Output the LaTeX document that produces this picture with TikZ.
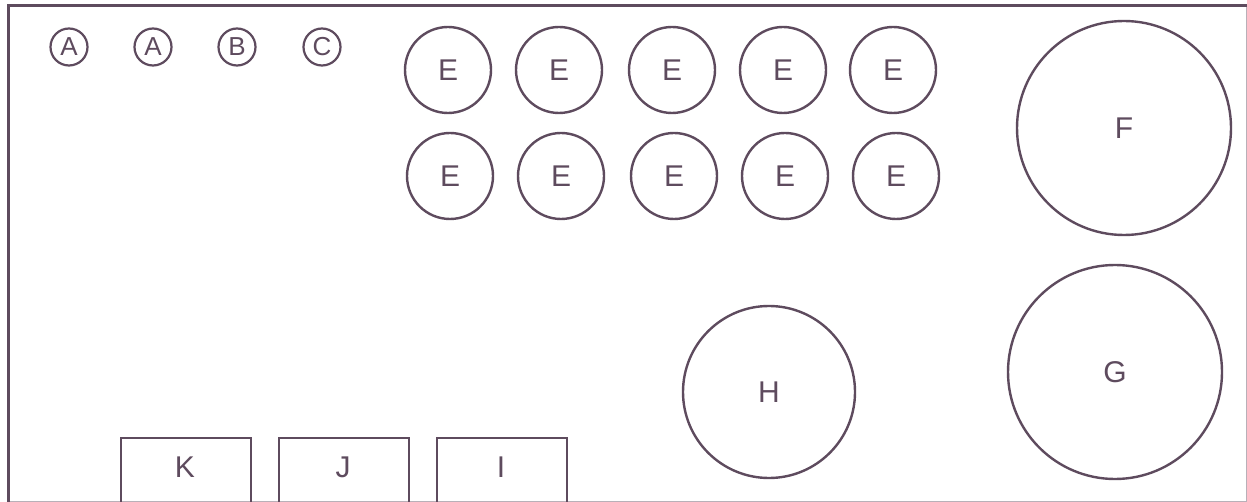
\documentclass[tikz,border=0pt]{standalone}
\usepackage{fontspec}
\setmainfont{Liberation Sans}
\definecolor{ink}{HTML}{5E4B5E}
\definecolor{faint}{HTML}{B8B0B8}
\begin{document}
\begin{tikzpicture}[x=1pt,y=-1pt,
  every node/.style={text=ink},
  smallc/.style={circle,draw=ink,line width=2.2pt,minimum size=37pt,inner sep=0pt,font=\fontsize{26}{26}\selectfont},
  ec/.style={circle,draw=ink,line width=2.4pt,minimum size=86pt,inner sep=0pt,font=\fontsize{30}{30}\selectfont},
  bigc/.style={circle,draw=ink,line width=2.4pt,inner sep=0pt,font=\fontsize{30}{30}\selectfont},
  boxk/.style={draw=ink,line width=2.4pt,minimum width=130pt,minimum height=70pt,inner sep=0pt,anchor=north west},
  lbl/.style={font=\fontsize{30}{30}\selectfont}]
\useasboundingbox (0,0) rectangle (1247,502);
\fill[white] (0,0) rectangle (1247,502);
\draw[faint,line width=1pt] (1246,6) -- (1246,501) -- (8,501);
% small circles
\node[smallc] (a1) at (69,47) {A};
\node[smallc] (a2) at (153,47) {A};
\node[smallc] (b) at (237,47) {B};
\node[smallc] (c) at (322,47) {C};
% E grid
\foreach \x [count=\i] in {448,559,672,783,893}
  \node[ec] (e1\i) at (\x,70) {E};
\foreach \x [count=\i] in {450,561,674,785,896}
  \node[ec] (e2\i) at (\x,176) {E};
% big circles
\node[bigc,minimum size=214pt] (f) at (1124,128) {F};
\node[bigc,minimum size=214pt] (g) at (1115,372) {G};
\node[bigc,minimum size=172pt] (h) at (769,392) {H};
% boxes
\node[boxk] (k) at (120,437) {};
\node[boxk] (j) at (278,437) {};
\node[boxk] (i) at (436,437) {};
\node[lbl] (kl) at (185,467) {K};
\node[lbl] (jl) at (343,467) {J};
\node[lbl] (il) at (501,467) {I};
% frame
\draw[ink,line width=3pt] (1247,6) -- (8,6) -- (8,502);
\end{tikzpicture}
\end{document}
